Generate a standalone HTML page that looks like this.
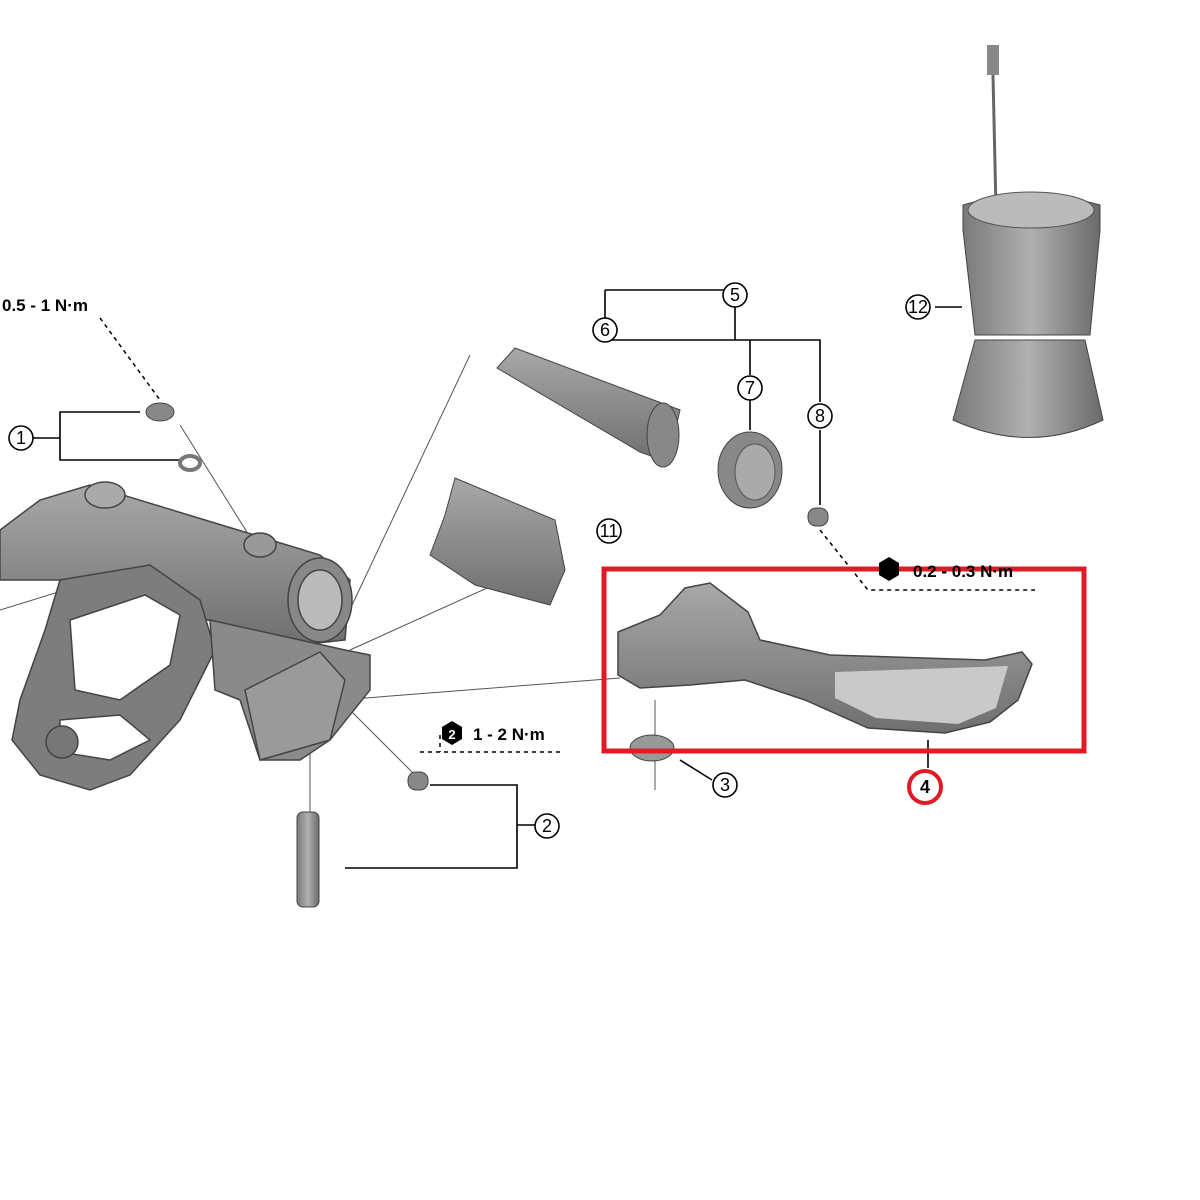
<!DOCTYPE html>
<html><head><style>body{margin:0;background:#fff}svg{display:block}text{font-family:"Liberation Sans",sans-serif}</style></head><body>
<svg width="1200" height="1200" viewBox="0 0 1200 1200" xmlns="http://www.w3.org/2000/svg">
<defs>
<linearGradient id="g" x1="0" y1="0" x2="0" y2="1"><stop offset="0" stop-color="#a8a8a8"/><stop offset="1" stop-color="#6f6f6f"/></linearGradient>
<linearGradient id="gh" x1="0" y1="0" x2="1" y2="0"><stop offset="0" stop-color="#7a7a7a"/><stop offset=".5" stop-color="#b0b0b0"/><stop offset="1" stop-color="#6a6a6a"/></linearGradient>
</defs>
<g fill="none" stroke="#000" stroke-width="1.6">
<path d="M33 438H60V412H140M60 438V460H180"/>
<path d="M605 290H735V340H605M605 290V318M735 340H750V375M735 340H820V402M750 400V430M820 430V505"/>
<path d="M345 868H517V785H430M517 825H535"/>
<path d="M935 307H962"/>
<path d="M680 760L712 780M928 740V768"/>
</g>
<g fill="none" stroke="#000" stroke-width="1.5" stroke-dasharray="4,4">
<path d="M100 318L160 400"/>
<path d="M420 752H560M440 735V752"/>
<path d="M820 530L868 590H1035"/>
</g>
<g stroke="#555" stroke-width="1">
<path d="M180 425L255 545M470 355L345 620M350 650L560 555M340 700L620 678M340 700L415 775M310 750V870M655 700V790M0 540L20 560M0 610L130 570"/>
</g>
<!-- main body: tube -->
<g stroke="#444" stroke-width="1.5">
<path d="M0 530L40 500L90 485L320 555L350 580L345 640L300 645L60 580L0 580Z" fill="url(#g)"/>
<ellipse cx="320" cy="600" rx="32" ry="42" fill="#888"/><ellipse cx="320" cy="600" rx="22" ry="30" fill="#bbb"/>
<ellipse cx="105" cy="495" rx="20" ry="13" fill="#aaa"/>
<ellipse cx="260" cy="545" rx="16" ry="12" fill="#999"/>
<!-- clamp ring -->
<path d="M60 580L150 565L200 600L215 650L180 720L130 775L90 790L40 775L12 740L20 700L45 630Z" fill="#7d7d7d"/>
<path d="M70 620L145 595L180 615L170 665L120 700L75 690Z" fill="#fff"/>
<path d="M60 720L120 715L150 740L110 760L60 752Z" fill="#fff"/>
<circle cx="62" cy="742" r="16" fill="#777"/>
<path d="M210 620L300 640L345 650L370 655V690L330 740L300 760L260 760L240 700L215 690Z" fill="#8a8a8a"/>
<path d="M245 690L320 652L345 680L330 740L260 760Z" fill="#9a9a9a"/>
</g>
<ellipse cx="160" cy="412" rx="14" ry="9" fill="#888" stroke="#444"/>
<ellipse cx="190" cy="463" rx="10" ry="7" fill="none" stroke="#777" stroke-width="4"/>
<rect x="408" y="772" width="20" height="18" rx="8" fill="#888" stroke="#444"/>
<rect x="297" y="812" width="22" height="95" rx="6" fill="url(#gh)" stroke="#444"/>
<!-- part 6 -->
<path d="M497 368L515 348L680 410L668 462L640 452Z" fill="url(#g)" stroke="#444"/>
<ellipse cx="663" cy="435" rx="16" ry="32" fill="#888" stroke="#444"/>
<!-- part 7 -->
<ellipse cx="750" cy="470" rx="32" ry="38" fill="#888" stroke="#444"/>
<ellipse cx="755" cy="472" rx="20" ry="28" fill="#aaa" stroke="#555"/>
<rect x="808" y="508" width="20" height="18" rx="8" fill="#888" stroke="#444"/>
<!-- part 11 -->
<path d="M455 478L555 520L565 570L550 605L475 585L430 555L445 515Z" fill="url(#g)" stroke="#444"/>
<!-- part 12 -->
<rect x="987" y="45" width="12" height="30" fill="#888"/>
<line x1="993" y1="75" x2="996" y2="210" stroke="#666" stroke-width="3"/>
<path d="M963 205Q1030 185 1100 205V230L1090 335H975L963 230Z" fill="url(#gh)" stroke="#444"/>
<ellipse cx="1031" cy="210" rx="63" ry="18" fill="#bbb" stroke="#555"/>
<path d="M975 340L1085 340L1103 420Q1030 455 953 420Z" fill="url(#gh)" stroke="#444"/>
<!-- lever 4 -->
<path d="M618 632L660 615L685 588L710 583L748 612L760 640L830 655L985 660L1022 652L1032 664L1018 700L990 722L945 733L868 728L805 700L745 680L690 685L640 688L618 675Z" fill="url(#g)" stroke="#444" stroke-width="1.5"/>
<path d="M835 672L1008 666L996 708L958 724L876 718L835 698Z" fill="#c9c9c9"/>
<ellipse cx="652" cy="748" rx="22" ry="13" fill="#999" stroke="#444"/>
<rect x="604" y="569" width="480" height="182" fill="none" stroke="#e01b24" stroke-width="5"/>
<circle cx="925" cy="787" r="16" fill="none" stroke="#e01b24" stroke-width="4"/>
<g font-size="18" text-anchor="middle" fill="#000">
<g fill="#fff" stroke="#000" stroke-width="1.6">
<circle cx="21" cy="438" r="12"/><circle cx="547" cy="826" r="12"/><circle cx="725" cy="785" r="12"/>
<circle cx="735" cy="295" r="12"/><circle cx="605" cy="330" r="12"/><circle cx="750" cy="388" r="12"/><circle cx="820" cy="416" r="12"/>
<circle cx="609" cy="531" r="12"/><circle cx="918" cy="307" r="12"/>
</g>
<text x="21" y="444">1</text><text x="547" y="832">2</text><text x="725" y="791">3</text><text x="925" y="793" font-weight="bold">4</text>
<text x="735" y="301">5</text><text x="605" y="336">6</text><text x="750" y="394">7</text><text x="820" y="422">8</text>
<text x="609" y="537">11</text><text x="918" y="313">12</text>
</g>
<g font-size="17" font-weight="bold">
<text x="2" y="311">0.5 - 1 N·m</text>
<text x="473" y="740">1 - 2 N·m</text>
<text x="913" y="577">0.2 - 0.3 N·m</text>
</g>
<polygon points="452,721 462,727 462,739 452,745 442,739 442,727" fill="#000"/>
<text x="452" y="739" font-size="13" font-weight="bold" fill="#fff" text-anchor="middle">2</text>
<polygon points="889,557 899,563 899,575 889,581 879,575 879,563" fill="#000"/>
</svg>
</body></html>
